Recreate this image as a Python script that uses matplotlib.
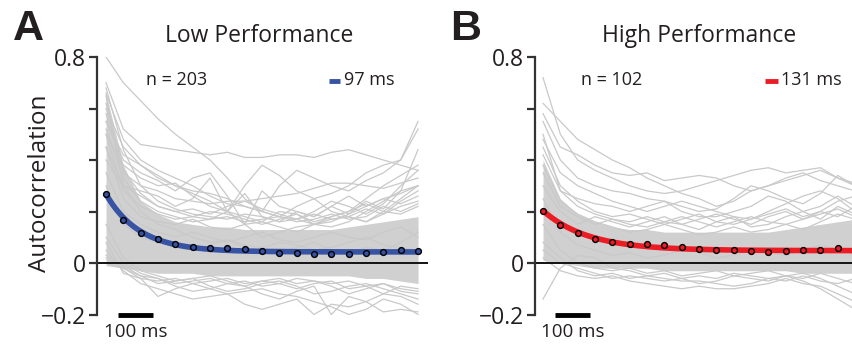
import matplotlib
matplotlib.use("Agg")
import matplotlib.pyplot as plt
from matplotlib.lines import Line2D
import numpy as np

plt.rcParams['font.family'] = ['Open Sans', 'DejaVu Sans']

# ---------------- data ----------------
lags = [50, 100, 150, 200, 250, 300, 350, 400, 450, 500,
        550, 600, 650, 700, 750, 800, 850, 900, 950]

low_mean = [0.267, 0.168, 0.115, 0.092, 0.074, 0.062, 0.057, 0.058, 0.053, 0.047,
            0.039, 0.039, 0.036, 0.034, 0.035, 0.039, 0.044, 0.050, 0.045]
high_mean = [0.203, 0.147, 0.115, 0.092, 0.081, 0.075, 0.072, 0.070, 0.063, 0.056,
             0.050, 0.050, 0.048, 0.044, 0.048, 0.050, 0.050, 0.059, 0.040]

# exponential fit parameters: amplitude, tau (ms), offset
low_fit = (0.375, 97, 0.043)
high_fit = (0.227, 131, 0.048)
low_n, high_n = 203, 102

# dense core of the individual-neuron traces (upper / lower envelope)
low_band_hi = [0.66, 0.38, 0.24, 0.19, 0.16, 0.15, 0.14, 0.14, 0.13, 0.13,
               0.13, 0.13, 0.13, 0.13, 0.14, 0.15, 0.16, 0.17, 0.18]
low_band_lo = [-0.01, -0.02, -0.03, -0.04, -0.04, -0.04, -0.05, -0.05, -0.05, -0.05,
               -0.05, -0.05, -0.05, -0.05, -0.05, -0.06, -0.06, -0.07, -0.08]
high_band_hi = [0.40, 0.25, 0.19, 0.16, 0.14, 0.13, 0.13, 0.12, 0.12, 0.12,
                0.12, 0.12, 0.12, 0.12, 0.13, 0.14, 0.15, 0.16, 0.17]
high_band_lo = [0.01, 0.0, -0.01, -0.02, -0.02, -0.02, -0.02, -0.03, -0.03, -0.03,
                -0.03, -0.03, -0.03, -0.03, -0.03, -0.04, -0.04, -0.04, -0.04]

# individual traces (a representative subset)
low_traces = [
    [0.80, 0.70, 0.63, 0.56, 0.50, 0.45, 0.40, 0.33, 0.25, 0.20, 0.18, 0.17, 0.15, 0.14, 0.16, 0.20, 0.24, 0.28, 0.30],
    [0.70, 0.52, 0.46, 0.45, 0.44, 0.43, 0.42, 0.43, 0.41, 0.41, 0.42, 0.42, 0.41, 0.43, 0.44, 0.42, 0.40, 0.38, 0.36],
    [0.66, 0.48, 0.40, 0.36, 0.33, 0.30, 0.26, 0.23, 0.22, 0.20, 0.30, 0.36, 0.33, 0.30, 0.28, 0.32, 0.35, 0.40, 0.55],
    [0.60, 0.45, 0.38, 0.33, 0.30, 0.28, 0.27, 0.25, 0.22, 0.20, 0.18, 0.22, 0.25, 0.27, 0.30, 0.35, 0.38, 0.40, 0.52],
    [0.55, 0.40, 0.35, 0.32, 0.28, 0.33, 0.35, 0.26, 0.15, 0.10, 0.12, 0.14, 0.15, 0.18, 0.20, 0.25, 0.30, 0.34, 0.38],
    [0.50, 0.38, 0.33, 0.30, 0.31, 0.26, 0.22, 0.20, 0.30, 0.38, 0.34, 0.28, 0.25, 0.20, 0.18, 0.16, 0.20, 0.25, 0.30],
    [0.62, 0.35, 0.30, 0.28, 0.25, 0.24, 0.23, 0.24, 0.24, 0.25, 0.26, 0.27, 0.29, 0.31, 0.31, 0.30, 0.29, 0.31, 0.33],
    [0.45, 0.30, 0.28, 0.26, 0.22, 0.25, 0.33, 0.20, 0.15, 0.28, 0.22, 0.20, 0.18, 0.22, 0.19, 0.24, 0.21, 0.28, 0.44],
    [0.40, 0.30, 0.26, 0.22, 0.20, 0.18, 0.17, 0.20, 0.27, 0.18, 0.16, 0.20, 0.18, 0.22, 0.26, 0.22, 0.25, 0.27, 0.30],
    [0.55, 0.42, 0.38, 0.34, 0.30, 0.27, 0.24, 0.20, 0.18, 0.16, 0.20, 0.19, 0.15, 0.16, 0.19, 0.22, 0.25, 0.23, 0.26],
    [0.05, -0.03, -0.08, -0.10, -0.12, -0.14, -0.13, -0.12, -0.11, -0.10, -0.12, -0.13, -0.15, -0.17, -0.20, -0.18, -0.14, -0.16, -0.20],
    [0.02, -0.02, -0.06, -0.13, -0.10, -0.08, -0.10, -0.12, -0.16, -0.18, -0.16, -0.14, -0.20, -0.16, -0.17, -0.15, -0.19, -0.18, -0.19],
    [0.10, 0.00, -0.04, -0.06, -0.09, -0.11, -0.10, -0.08, -0.09, -0.12, -0.14, -0.11, -0.09, -0.20, -0.13, -0.15, -0.12, -0.13, -0.16],
    [0.00, -0.02, -0.05, -0.08, -0.07, -0.06, -0.09, -0.11, -0.10, -0.08, -0.07, -0.09, -0.12, -0.11, -0.09, -0.08, -0.10, -0.12, -0.14],
    [0.15, 0.02, -0.03, -0.05, -0.07, -0.06, -0.05, -0.07, -0.09, -0.07, -0.06, -0.08, -0.07, -0.09, -0.12, -0.10, -0.08, -0.11, -0.12],
    [0.35, 0.20, 0.15, 0.12, 0.10, 0.12, 0.10, 0.08, 0.10, 0.12, 0.09, 0.08, 0.10, 0.12, 0.10, 0.09, 0.12, 0.14, 0.10],
    [0.30, 0.15, 0.10, 0.08, 0.06, 0.05, 0.07, 0.09, 0.06, 0.05, 0.04, 0.06, 0.08, 0.05, 0.04, 0.06, 0.05, 0.08, 0.12],
    [0.45, 0.25, 0.18, 0.16, 0.15, 0.17, 0.14, 0.13, 0.15, 0.16, 0.14, 0.12, 0.15, 0.17, 0.18, 0.16, 0.19, 0.22, 0.24],
    [0.65, 0.30, 0.20, 0.15, 0.13, 0.10, 0.08, 0.09, 0.07, 0.06, 0.08, 0.07, 0.05, 0.06, 0.08, 0.10, 0.07, 0.06, 0.05],
    [0.50, 0.28, 0.22, 0.19, 0.17, 0.18, 0.20, 0.19, 0.17, 0.15, 0.17, 0.19, 0.16, 0.18, 0.20, 0.23, 0.20, 0.19, 0.22],
    [0.58, 0.36, 0.27, 0.22, 0.20, 0.21, 0.19, 0.22, 0.24, 0.21, 0.19, 0.17, 0.20, 0.24, 0.22, 0.19, 0.23, 0.30, 0.36],
    [0.68, 0.44, 0.30, 0.24, 0.21, 0.19, 0.18, 0.17, 0.19, 0.18, 0.16, 0.17, 0.19, 0.17, 0.18, 0.21, 0.19, 0.24, 0.28],
    [0.52, 0.33, 0.24, 0.20, 0.18, 0.16, 0.17, 0.18, 0.16, 0.17, 0.18, 0.16, 0.17, 0.19, 0.17, 0.18, 0.22, 0.20, 0.23],
    [0.08, -0.04, -0.06, -0.07, -0.06, -0.08, -0.07, -0.06, -0.08, -0.07, -0.08, -0.06, -0.07, -0.08, -0.07, -0.09, -0.08, -0.10, -0.11],
    [0.03, -0.01, -0.05, -0.06, -0.08, -0.07, -0.06, -0.08, -0.07, -0.09, -0.08, -0.10, -0.08, -0.07, -0.10, -0.09, -0.12, -0.09, -0.10],
]

high_traces = [
    [0.72, 0.50, 0.40, 0.36, 0.33, 0.30, 0.28, 0.27, 0.28, 0.30, 0.32, 0.34, 0.36, 0.37, 0.35, 0.36, 0.37, 0.33, 0.30],
    [0.62, 0.55, 0.48, 0.44, 0.40, 0.37, 0.33, 0.30, 0.27, 0.25, 0.22, 0.24, 0.28, 0.30, 0.33, 0.35, 0.32, 0.30, 0.28],
    [0.58, 0.45, 0.42, 0.38, 0.35, 0.34, 0.35, 0.32, 0.33, 0.34, 0.33, 0.30, 0.28, 0.30, 0.32, 0.34, 0.36, 0.33, 0.31],
    [0.55, 0.40, 0.33, 0.30, 0.28, 0.27, 0.25, 0.24, 0.22, 0.20, 0.21, 0.25, 0.30, 0.28, 0.25, 0.23, 0.27, 0.34, 0.30],
    [0.50, 0.28, 0.25, 0.23, 0.22, 0.20, 0.22, 0.24, 0.20, 0.18, 0.18, 0.20, 0.22, 0.26, 0.24, 0.20, 0.22, 0.26, 0.22],
    [0.48, 0.35, 0.30, 0.27, 0.24, 0.22, 0.20, 0.22, 0.24, 0.22, 0.20, 0.18, 0.17, 0.20, 0.23, 0.26, 0.28, 0.25, 0.20],
    [-0.14, -0.02, 0.03, 0.02, -0.02, -0.03, -0.05, -0.06, -0.07, -0.07, -0.08, -0.09, -0.08, -0.06, -0.05, -0.07, -0.10, -0.14, -0.18],
    [0.02, -0.03, -0.05, -0.06, -0.05, -0.07, -0.08, -0.09, -0.10, -0.09, -0.10, -0.10, -0.09, -0.08, -0.06, -0.08, -0.09, -0.12, -0.15],
    [0.05, 0.00, -0.02, -0.04, -0.06, -0.05, -0.06, -0.07, -0.06, -0.08, -0.07, -0.05, -0.06, -0.07, -0.05, -0.06, -0.04, -0.06, -0.08],
    [0.30, 0.20, 0.15, 0.18, 0.16, 0.14, 0.16, 0.18, 0.15, 0.13, 0.16, 0.18, 0.14, 0.15, 0.18, 0.20, 0.17, 0.22, 0.19],
    [0.45, 0.30, 0.24, 0.20, 0.18, 0.19, 0.17, 0.15, 0.17, 0.19, 0.16, 0.15, 0.17, 0.19, 0.21, 0.18, 0.20, 0.24, 0.26],
    [0.38, 0.24, 0.19, 0.16, 0.14, 0.12, 0.13, 0.15, 0.13, 0.11, 0.12, 0.14, 0.12, 0.13, 0.15, 0.13, 0.16, 0.19, 0.17],
    [0.25, 0.12, 0.07, 0.05, 0.03, 0.04, 0.02, 0.03, 0.05, 0.04, 0.02, 0.03, 0.05, 0.04, 0.03, 0.05, 0.07, 0.05, 0.04],
    [0.15, 0.05, 0.00, -0.02, -0.03, -0.02, -0.04, -0.03, -0.05, -0.04, -0.03, -0.05, -0.04, -0.03, -0.05, -0.04, -0.06, -0.09, -0.12],
    [0.42, 0.28, 0.22, 0.19, 0.17, 0.16, 0.18, 0.16, 0.15, 0.17, 0.19, 0.17, 0.15, 0.18, 0.20, 0.17, 0.19, 0.21, 0.18],
    [0.35, 0.22, 0.18, 0.15, 0.17, 0.15, 0.14, 0.16, 0.18, 0.16, 0.14, 0.16, 0.18, 0.16, 0.15, 0.17, 0.20, 0.18, 0.22],
    [0.08, 0.02, -0.03, -0.05, -0.04, -0.06, -0.05, -0.04, -0.06, -0.05, -0.06, -0.04, -0.05, -0.06, -0.07, -0.05, -0.07, -0.08, -0.06],
]

# ---------------- style ----------------
GRAY = '#c9c9c9'
BAND = '#d0d0d0'
TXT = '#231f20'
BLUE = '#3653a4'
RED = '#ec1c24'

W, H = 853, 347
fig = plt.figure(figsize=(W / 100, H / 100), dpi=100)


def make_axes(left_px, right_px, xlim):
    top_px, bot_px = 57, 314.5
    ax = fig.add_axes([left_px / W, (H - bot_px) / H,
                       (right_px - left_px) / W, (bot_px - top_px) / H])
    ax.set_xlim(*xlim)
    ax.set_ylim(-0.2, 0.8)
    for s in ['top', 'right', 'bottom']:
        ax.spines[s].set_visible(False)
    ax.spines['left'].set_color('#333333')
    ax.spines['left'].set_linewidth(1.6)
    ax.set_xticks([])
    ax.set_yticks([-0.2, 0, 0.2, 0.4, 0.6, 0.8])
    ax.set_yticklabels(['\u22120.2', '0', '', '', '', '0.8'])
    ax.tick_params(axis='y', direction='out', length=6, width=1.6,
                   color='#333333', labelsize=16.5, labelcolor=TXT, pad=2)
    return ax


def draw_panel(ax, mean, fit, band_hi, band_lo, traces, color, n, tau_label,
               title, letter, letter_x, legend_x):
    x = np.array(lags, dtype=float)
    ax.fill_between(x, band_lo, band_hi, color=BAND, lw=0, zorder=1)
    for tr in traces:
        ax.plot(x, tr, color=GRAY, lw=0.9, zorder=1.5)
    ax.axhline(0, color='#111111', lw=1.4, zorder=2)
    amp, tau, off = fit
    xf = np.linspace(lags[0], lags[-1], 300)
    ax.plot(xf, amp * np.exp(-xf / tau) + off, color=color, lw=4,
            solid_capstyle='butt', zorder=3, clip_on=False)
    ax.plot(x, mean, 'o', ms=4.2, mfc=color, mec='black', mew=1.0,
            zorder=4, clip_on=False)
    # scale bar 100 ms
    ax.plot([85, 185], [-0.2, -0.2], color='black', lw=3.5,
            solid_capstyle='butt', clip_on=False, zorder=5)
    ax.text(135, -0.268, '100 ms', ha='center', va='center', fontsize=13.5,
            color=TXT, clip_on=False)
    ax.text(0.24, 0.911, f'n = {n}', transform=ax.transAxes, ha='center',
            va='center', fontsize=13, color=TXT)
    lx0, lx1, tx = legend_x
    ax.add_line(Line2D([lx0, lx1], [0.907, 0.907], transform=ax.transAxes,
                       color=color, lw=3.5, solid_capstyle='butt'))
    ax.text(tx, 0.911, tau_label, transform=ax.transAxes, ha='left',
            va='center', fontsize=13, color=TXT)
    fig.text(title[1] / W, 1 - 36 / H, title[0], ha='center', va='center',
             fontsize=16.5, color=TXT)
    fig.text(letter_x / W, 1 - 29 / H, letter, ha='center', va='center',
             fontsize=31, fontweight='bold', color=TXT,
             family=['Liberation Sans', 'DejaVu Sans'])


axA = make_axes(97, 428, (24, 978.7))
draw_panel(axA, low_mean, low_fit, low_band_hi, low_band_lo, low_traces, BLUE,
           low_n, '97 ms', ('Low Performance', 259.5), 'A', 28,
           (0.701, 0.734, 0.745))
axA.set_ylabel('Autocorrelation', fontsize=17.5, color=TXT)
axA.yaxis.set_label_coords(-0.135, 0.51)

axB = make_axes(535, 853, (26.9, 944))
draw_panel(axB, high_mean, high_fit, high_band_hi, high_band_lo, high_traces, RED,
           high_n, '131 ms', ('High Performance', 698.7), 'B', 466,
           (0.723, 0.764, 0.774))

fig.savefig('out.png', dpi=100)
